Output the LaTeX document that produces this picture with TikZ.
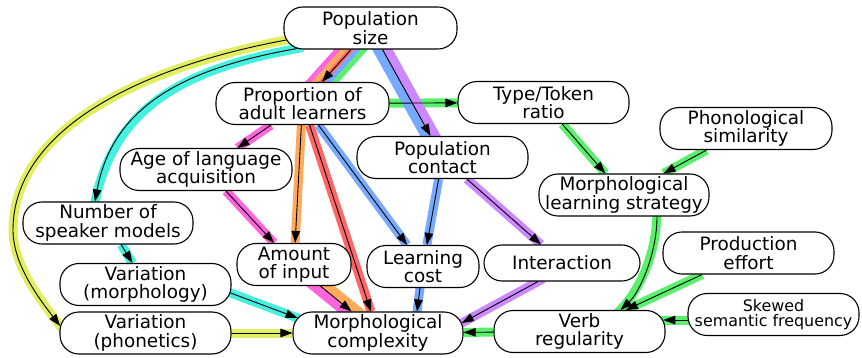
\documentclass[tikz,border=0pt]{standalone}
\usepackage{fontspec}
\setmainfont{DejaVu Sans}
\usetikzlibrary{arrows.meta,calc,backgrounds,positioning}

\definecolor{hlyellow}{HTML}{E0EE60}
\definecolor{hlcyan}{HTML}{44F0E0}
\definecolor{hlmagenta}{HTML}{FF66DD}
\definecolor{hlorange}{HTML}{FFAA5A}
\definecolor{hlred}{HTML}{FF6666}
\definecolor{hlblue}{HTML}{77AAFF}
\definecolor{hlgreen}{HTML}{5AF06E}
\definecolor{hlpurple}{HTML}{CC88FF}

% one coloured stripe of a shared edge: colour, width, offset, from, to
\newcommand{\stripe}[5]{\draw[band=#1,line width=#2] ($(#4)!#3!90:(#5)$) -- ($(#5)!#3!-90:(#4)$);}

\begin{document}
\begin{tikzpicture}[->,>={Triangle[length=12pt,width=8.5pt]},line width=0.9pt,x=1pt,y=-1pt,
  box/.style={draw,fill=white,rounded corners=19pt,line width=1.1pt,align=center,minimum height=42pt,inner sep=0.5pt,font=\fontsize{18.4}{18.5}\selectfont},
  band/.style={-,draw=#1,line width=9pt},
  under/.style={shorten <=-6pt,shorten >=-6pt}]
\useasboundingbox (0,0) rectangle (862,358);

\node[box,minimum width=173pt] (ps) at (370.5,28) {Population\\size};
\node[box,minimum width=173pt] (pal) at (302.5,103.5) {Proportion of\\adult learners};
\node[box,minimum width=171pt] (ttr) at (543.5,102.5) {Type/Token\\ratio};
\node[box,minimum width=172pt] (phs) at (746,128.5) {Phonological\\similarity};
\node[box,minimum width=171pt] (pc) at (442.5,157.5) {Population\\contact};
\node[box,minimum width=172pt] (age) at (206,169.5) {Age of language\\acquisition};
\node[box,minimum width=170pt] (mls) at (624,195) {Morphological\\learning strategy};
\node[box,minimum width=170pt] (nsm) at (108,223) {Number of\\speaker models};
\node[box,minimum width=114pt] (ai) at (294,264.5) {Amount\\of input};
\node[box,minimum width=112pt] (lc) at (423,266.5) {Learning\\cost};
\node[box,minimum width=156pt,minimum height=36pt,rounded corners=18pt] (int) at (562,263) {Interaction};
\node[box,minimum width=171pt] (pe) at (748.5,253) {Production\\effort};
\node[box,minimum width=171pt] (vm) at (145.5,284.5) {Variation\\(morphology)};
\node[box,minimum width=171pt] (vp) at (145.5,333) {Variation\\(phonetics)};
\node[box,minimum width=170pt] (mc) at (378,333) {Morphological\\complexity};
\node[box,minimum width=171pt] (vr) at (579.5,331.5) {Verb\\regularity};
\node[box,minimum width=171pt,font=\fontsize{15.9}{15.5}\selectfont] (ssf) at (773.5,314.5) {Skewed\\semantic frequency};
\coordinate (ybend) at (13,230);

% highlight bands
\begin{scope}[on background layer]
\draw[band=hlyellow,under] ([shift={(2.8,12)}]ps.west) .. controls +(-147,27) and +(0,-100) .. (ybend)
  .. controls +(0,35) and +(-20,-26) .. ([shift={(0.7,-7)}]vp.west);
\draw[band=hlcyan,under] ([shift={(-73.5,-1)}]ps.south) .. controls +(-108,19) and +(18,-98) .. ([shift={(-13,0)}]nsm.north);
\stripe{hlmagenta}{5pt}{-10pt}{ps}{pal}
\stripe{hlorange}{5pt}{-5pt}{ps}{pal}
\stripe{hlred}{5pt}{0pt}{ps}{pal}
\stripe{hlblue}{5pt}{5pt}{ps}{pal}
\stripe{hlgreen}{5pt}{10pt}{ps}{pal}
\path[band=hlgreen] (pal) edge (ttr);
\stripe{hlblue}{9pt}{-4.5pt}{ps}{pc}
\stripe{hlpurple}{9pt}{4.5pt}{ps}{pc}
\path[band=hlmagenta] (pal) edge (age);
\path[band=hlorange] (pal) edge (ai);
\path[band=hlred] (pal) edge (mc);
\path[band=hlblue] (pal) edge (lc);
\path[band=hlmagenta] (age) edge (ai);
\path[band=hlblue] (pc) edge (lc);
\path[band=hlpurple] (pc) edge (int);
\path[band=hlgreen] (ttr) edge (mls);
\path[band=hlgreen] (phs) edge (mls);
\draw[band=hlgreen,under] ([shift={(33,0)}]mls.south) .. controls +(0,38) and +(18.5,-17) .. ([shift={(41,0)}]vr.north);
\path[band=hlgreen] (pe) edge (vr);
\path[band=hlgreen,under] ([shift={(0.2,5.5)}]ssf.west) edge ([shift={(-2.3,-11.5)}]vr.east);
\path[band=hlcyan] (nsm) edge (vm);
\path[band=hlcyan,under] ([shift={(-1,8.5)}]vm.east) edge ([shift={(5.1,-15)}]mc.west);
\path[band=hlyellow] (vp) edge (mc);
\stripe{hlmagenta}{9pt}{-4.5pt}{ai}{mc}
\stripe{hlorange}{9pt}{4.5pt}{ai}{mc}
\path[band=hlblue,under] ([shift={(-3,0)}]lc.south) edge ([shift={(39,0)}]mc.north);
\path[band=hlpurple,under] ([shift={(-24,0)}]int.south) edge ([shift={(-1.8,-10)}]mc.east);
\path[band=hlgreen] (vr) edge (mc);
\end{scope}

% arrows
\draw ([shift={(2.8,12)}]ps.west) .. controls +(-147,27) and +(0,-100) .. (ybend)
  .. controls +(0,35) and +(-20,-26) .. ([shift={(0.7,-7)}]vp.west);
\draw ([shift={(-73.5,-1)}]ps.south) .. controls +(-108,19) and +(18,-98) .. ([shift={(-13,0)}]nsm.north);
\path (ps) edge (pal);
\path (ps) edge (pc);
\path (pal) edge (ttr);
\path (pal) edge (age);
\path (pal) edge (ai);
\path (pal) edge (mc);
\path (pal) edge (lc);
\path (age) edge (ai);
\path (pc) edge (lc);
\path (pc) edge (int);
\path (ttr) edge (mls);
\path (phs) edge (mls);
\draw ([shift={(33,0)}]mls.south) .. controls +(0,38) and +(18.5,-17) .. ([shift={(41,0)}]vr.north);
\path (pe) edge (vr);
\path ([shift={(0.2,5.5)}]ssf.west) edge ([shift={(-2.3,-11.5)}]vr.east);
\path (nsm) edge (vm);
\path ([shift={(-1,8.5)}]vm.east) edge ([shift={(5.1,-15)}]mc.west);
\path (vp) edge (mc);
\path (ai) edge (mc);
\path ([shift={(-3,0)}]lc.south) edge ([shift={(39,0)}]mc.north);
\path ([shift={(-24,0)}]int.south) edge ([shift={(-1.8,-10)}]mc.east);
\path (vr) edge (mc);
\end{tikzpicture}
\end{document}
